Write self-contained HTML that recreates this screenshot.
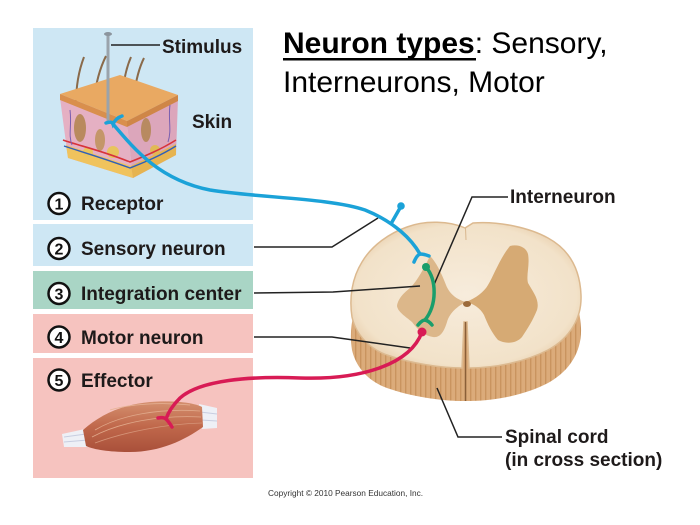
<!DOCTYPE html>
<html>
<head>
<meta charset="utf-8">
<style>
html,body{margin:0;padding:0;background:#fff;}
body{width:700px;height:525px;overflow:hidden;position:relative;}
svg{position:absolute;left:0;top:0;}
.lab{font-family:"Liberation Sans",Arial,sans-serif;font-weight:bold;font-size:19px;fill:#1e1a1a;}
.num{font-family:"Liberation Sans",Arial,sans-serif;font-weight:bold;font-size:16px;fill:#111;}
.ttl{font-family:"Liberation Sans",Arial,sans-serif;font-size:30px;fill:#000;}
</style>
</head>
<body>
<svg width="700" height="525" viewBox="0 0 700 525" xmlns="http://www.w3.org/2000/svg">
<defs>
  <pattern id="stripes" width="5" height="10" patternUnits="userSpaceOnUse">
    <rect width="5" height="10" fill="#dbab7a"/>
    <rect x="0" width="1.4" height="10" fill="#c9945f"/>
  </pattern>
  <radialGradient id="wm" cx="0.5" cy="0.5" r="0.6">
    <stop offset="0" stop-color="#f7ecdc"/>
    <stop offset="0.8" stop-color="#f2e2c9"/>
    <stop offset="1" stop-color="#e4c59f"/>
  </radialGradient>
  <linearGradient id="musc" x1="0" y1="0" x2="0" y2="1">
    <stop offset="0" stop-color="#d4906f"/>
    <stop offset="0.5" stop-color="#c0684b"/>
    <stop offset="1" stop-color="#a9503a"/>
  </linearGradient>
</defs>

<!-- Panels -->
<rect x="33" y="28" width="220" height="192" fill="#cee7f4"/>
<rect x="33" y="224" width="220" height="42" fill="#cee7f4"/>
<rect x="33" y="271" width="220" height="38" fill="#a9d5c5"/>
<rect x="33" y="314" width="220" height="39" fill="#f6c3bf"/>
<rect x="33" y="358" width="220" height="120" fill="#f6c3bf"/>

<!-- Skin block -->
<g>
  <path d="M76,104 C76,85 79,70 84,57" stroke="#8a6a4a" stroke-width="2" fill="none"/>
  <path d="M94,100 C96,82 100,68 106,56" stroke="#8a6a4a" stroke-width="2" fill="none"/>
  <path d="M123,92 C124,78 127,66 131,57" stroke="#8a6a4a" stroke-width="2" fill="none"/>
  <path d="M134,95 C136,80 139,68 144,58" stroke="#8a6a4a" stroke-width="2" fill="none"/>
  <polygon points="60,98 127,124 133,178 68,158" fill="#e5b0c3"/>
  <polygon points="127,124 178,98 176,155 133,178" fill="#dca6bb"/>
  <polygon points="66,145 131,166 133,178 68,158" fill="#f0c35d"/>
  <polygon points="131,166 176,144 176,155 133,178" fill="#e6b450"/>
  <polygon points="60,94 120,75 178,95 127,121" fill="#e9a962"/>
  <polygon points="60,94 127,121 127,127 60,100" fill="#d98f4d"/>
  <polygon points="127,121 178,95 178,101 127,127" fill="#cf8647"/>
  <ellipse cx="80" cy="128" rx="6" ry="14" fill="#b98a5e"/>
  <ellipse cx="100" cy="140" rx="5" ry="11" fill="#c49669"/>
  <ellipse cx="146" cy="130" rx="5" ry="12" fill="#b88a60"/>
  <circle cx="113" cy="152" r="6" fill="#e8c45c"/>
  <circle cx="88" cy="152" r="5" fill="#e8c45c"/>
  <circle cx="155" cy="150" r="5" fill="#e1b955"/>
  <path d="M63,140 C80,146 100,150 130,162 C145,156 160,150 176,140" stroke="#d8333a" stroke-width="1.6" fill="none"/>
  <path d="M64,146 C82,152 100,157 130,168 C145,162 160,156 176,146" stroke="#2f5fb8" stroke-width="1.4" fill="none"/>
  <path d="M70,110 C72,125 68,135 72,145" stroke="#7a5fb0" stroke-width="1" fill="none"/>
  <path d="M170,105 C168,120 172,130 168,142" stroke="#7a5fb0" stroke-width="1" fill="none"/>
  <line x1="108" y1="34" x2="108" y2="122" stroke="#9aa3ab" stroke-width="3"/>
  <ellipse cx="108" cy="34" rx="4" ry="2" fill="#8c959e"/>
</g>

<line x1="111" y1="45" x2="160" y2="45" stroke="#222" stroke-width="1.5"/>
<text x="162" y="53" class="lab">Stimulus</text>
<text x="192" y="128" class="lab">Skin</text>

<!-- Muscle -->
<g>
  <polygon points="62,434 85,429 90,447 64,447" fill="#eef0f6"/>
  <line x1="64" y1="437" x2="86" y2="434" stroke="#c8cde0" stroke-width="1"/>
  <line x1="64" y1="442" x2="88" y2="440" stroke="#c8cde0" stroke-width="1"/>
  <polygon points="199,404 217,408 217,428 202,429" fill="#eef0f6"/>
  <line x1="200" y1="412" x2="217" y2="414" stroke="#c8cde0" stroke-width="1"/>
  <line x1="201" y1="420" x2="217" y2="421" stroke="#c8cde0" stroke-width="1"/>
  <path d="M83,430 C100,415 120,405 150,402 C175,400 195,403 202,407 L203,427 C185,440 160,452 130,452 C110,452 95,450 86,446 Z" fill="url(#musc)"/>
  <path d="M95,430 C120,415 160,408 200,411" stroke="#e0a88a" stroke-width="0.8" fill="none"/>
  <path d="M92,437 C120,422 160,415 201,417" stroke="#e0a88a" stroke-width="0.8" fill="none"/>
  <path d="M95,443 C125,432 165,424 202,423" stroke="#d59478" stroke-width="0.8" fill="none"/>
  <path d="M110,410 C130,404 160,402 190,405" stroke="#e6b396" stroke-width="0.8" fill="none"/>
</g>

<!-- Circles and labels -->
<g>
  <circle cx="59" cy="203.5" r="10.5" fill="#fff" stroke="#111" stroke-width="2.5"/>
  <text x="59" y="209.5" text-anchor="middle" class="num">1</text>
  <text x="81" y="210" class="lab">Receptor</text>

  <circle cx="59" cy="248.5" r="10.5" fill="#fff" stroke="#111" stroke-width="2.5"/>
  <text x="59" y="254.5" text-anchor="middle" class="num">2</text>
  <text x="81" y="255" class="lab">Sensory neuron</text>

  <circle cx="59" cy="293.5" r="10.5" fill="#fff" stroke="#111" stroke-width="2.5"/>
  <text x="59" y="299.5" text-anchor="middle" class="num">3</text>
  <text x="81" y="300" class="lab">Integration center</text>

  <circle cx="59" cy="337" r="10.5" fill="#fff" stroke="#111" stroke-width="2.5"/>
  <text x="59" y="343" text-anchor="middle" class="num">4</text>
  <text x="81" y="344" class="lab">Motor neuron</text>

  <circle cx="59" cy="380" r="10.5" fill="#fff" stroke="#111" stroke-width="2.5"/>
  <text x="59" y="386" text-anchor="middle" class="num">5</text>
  <text x="81" y="387" class="lab">Effector</text>
</g>

<!-- Title -->
<text x="283" y="53" class="ttl"><tspan font-weight="bold">Neuron types</tspan>: Sensory,</text>
<rect x="283" y="58" width="193" height="2.5" fill="#000"/>
<text x="283" y="92" class="ttl">Interneurons, Motor</text>

<!-- Spinal cord -->
<g>
  <path transform="translate(0,33)" d="M465,228 C450,221 425,220 407,227 C390,233 372,245 362,262 C352,278 349,298 352,317 C356,335 370,350 390,356 C410,363 440,368 462,368 L469,368 C495,368 525,362 548,350 C570,338 582,318 581,295 C580,270 570,250 548,238 C530,228 500,221 473,223 Z" fill="url(#stripes)"/>
  <path d="M465,228 C450,221 425,220 407,227 C390,233 372,245 362,262 C352,278 349,298 352,317 C356,335 370,350 390,356 C410,363 440,368 462,368 L464,322 L467,322 L469,368 C495,368 525,362 548,350 C570,338 582,318 581,295 C580,270 570,250 548,238 C530,228 500,221 473,223 Z" fill="url(#wm)" stroke="#dcb98f" stroke-width="1.5"/>
  <path d="M430,256 C436,262 441,272 446,285 C450,295 458,300 466,302 C458,306 450,312 447,322 C444,332 440,338 433,337 C425,336 418,330 412,322 C405,316 398,312 397,306 C398,298 405,292 410,288 C418,280 424,268 430,256 Z" fill="#dcb78a"/>
  <path d="M510,246 C518,244 526,247 528,254 C530,265 526,275 528,283 C533,292 540,300 537,310 C533,320 528,328 522,337 C516,344 505,344 498,340 C492,333 488,325 484,315 C480,308 474,304 466,302 C476,298 484,292 488,285 C494,275 500,258 510,246 Z" fill="#d6aa74"/>
  <ellipse cx="467" cy="304" rx="4" ry="3" fill="#9c6a3a"/>
  <line x1="465.5" y1="322" x2="465.5" y2="401" stroke="#8a5f38" stroke-width="1.5"/>
  <line x1="465.5" y1="228" x2="466" y2="240" stroke="#d8b78e" stroke-width="1"/>
</g>

<!-- Leader lines -->
<g stroke="#222" stroke-width="1.5" fill="none">
  <polyline points="254,247 332,247 378,218"/>
  <polyline points="254,293 333,292 420,286"/>
  <polyline points="254,337 332,337 410,348"/>
  <polyline points="433,287 472,197 508,197"/>
  <polyline points="437,388 458,437 502,437"/>
</g>

<!-- Sensory neuron (blue) -->
<g stroke="#1ba2d8" stroke-width="3.5" fill="none" stroke-linecap="round">
  <path d="M113,124 C135,150 160,180 210,190 C260,198 330,198 365,210 C395,222 412,240 420,254"/>
  <path d="M106,123 Q112,121 113,124 Q116,118 122,116"/>
  <path d="M414,262 Q417,255 420,254 Q424,254 429,256"/>
  <path d="M392,222 L400,208"/>
</g>
<circle cx="401" cy="206" r="3.8" fill="#1ba2d8"/>

<!-- Interneuron (green) -->
<g stroke="#1a9e6b" stroke-width="3.5" fill="none" stroke-linecap="round">
  <path d="M426,267 C437,280 437,305 425,320"/>
  <path d="M418,325 Q422,320 425,320 Q429,321 432,325"/>
</g>
<circle cx="426" cy="267" r="4" fill="#1a9e6b"/>

<!-- Motor neuron (red) -->
<g stroke="#d81b55" stroke-width="3.5" fill="none" stroke-linecap="round">
  <path d="M422,332 C410,365 360,380 300,378 C250,376 200,380 180,398 C172,406 168,413 166,419"/>
  <path d="M158,418 Q164,417 166,419 Q169,422 172,427"/>
</g>
<circle cx="422" cy="332" r="4.5" fill="#d81b55"/>

<!-- Right labels -->
<text x="510" y="203" class="lab">Interneuron</text>
<text x="505" y="443" class="lab">Spinal cord</text>
<text x="505" y="466" class="lab">(in cross section)</text>

<text x="268" y="496" font-family="Liberation Sans, Arial, sans-serif" font-size="8.3" fill="#333">Copyright © 2010 Pearson Education, Inc.</text>
</svg>
</body>
</html>
